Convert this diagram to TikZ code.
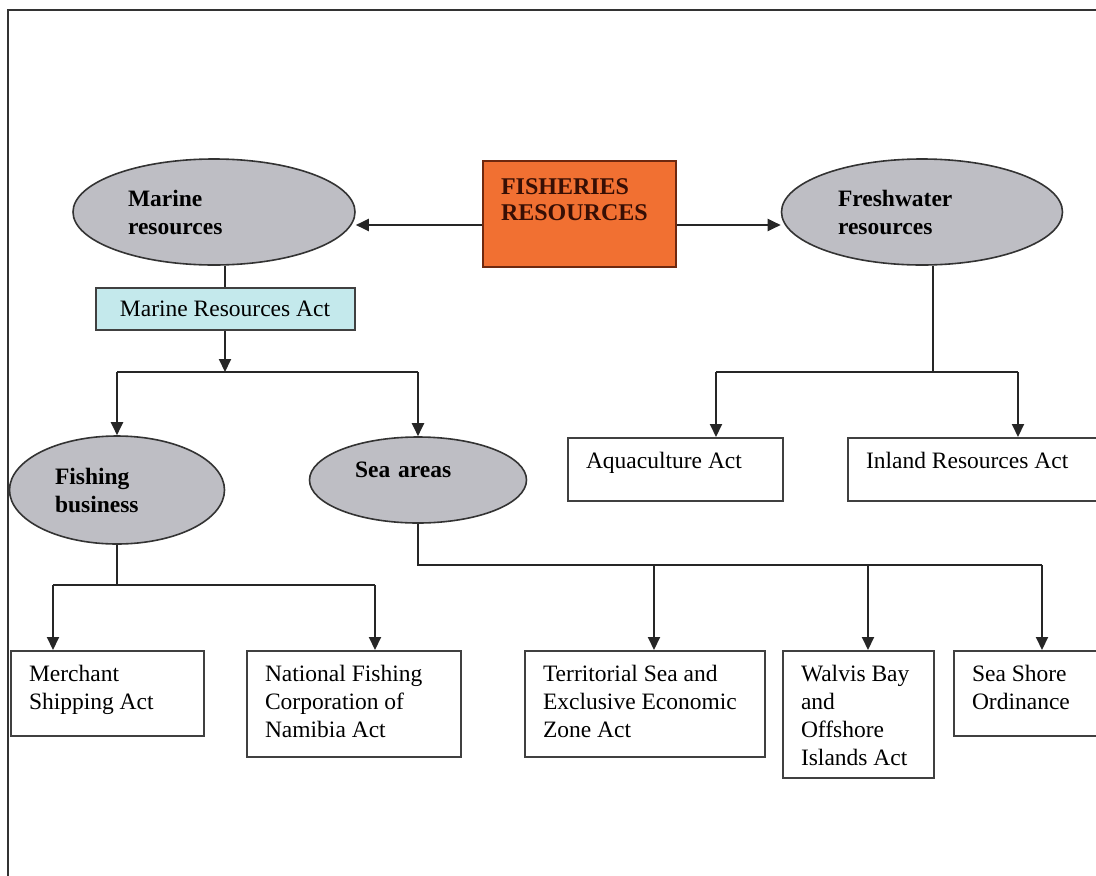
\documentclass[tikz,border=0pt]{standalone}
\usepackage{fontspec}
\setmainfont{Liberation Serif}
\usepackage{tikz}
\usetikzlibrary{arrows.meta,shapes.geometric}
\definecolor{naranja}{RGB}{241,112,50}
\definecolor{borde}{RGB}{110,40,15}
\definecolor{letra}{RGB}{55,15,5}
\definecolor{gris}{RGB}{190,190,196}
\definecolor{celeste}{RGB}{196,233,236}
\tikzset{
  ovalo/.style={ellipse,draw=black!80,line width=1.6pt,fill=gris,inner sep=0pt,align=left,font=\fontsize{23.5}{28}\selectfont\bfseries},
  caja/.style={rectangle,draw=black!75,line width=2pt,fill=white,inner sep=0pt,anchor=north west,font=\fontsize{23.5}{28}\selectfont},
  flecha/.style={-{Triangle[length=13pt,width=12pt]},black!85,line width=2pt},
  linea/.style={black!85,line width=2pt},
  marco/.style={black!80,line width=1.6pt}
}
\newcommand{\textocaja}[4][10.4]{\parbox[c][#3pt][t]{#2pt}{\raggedright\leftskip=18pt\vspace*{#1pt}\strut#4}}

\begin{document}
\begin{tikzpicture}[x=1pt,y=-1pt]
\useasboundingbox (0,0) rectangle (1096,876); \clip (0,0) rectangle (1096,876);
\draw[marco] (8,10) rectangle (1130,900);
\node[caja,fill=naranja,draw=borde,text=letra,font=\fontsize{24}{26}\selectfont\bfseries] (pesqueria) at (482,160) {\textocaja[14.8]{193}{106}{FISHERIES\\RESOURCES}};
\node[ovalo,minimum width=282pt,minimum height=106pt,text width=172pt] (marina) at (214,212) {Marine\\resources};
\node[ovalo,minimum width=281pt,minimum height=106pt,text width=168pt] (dulce) at (922,212) {Freshwater\\resources};
\draw[flecha] ([yshift=-11pt]pesqueria.west) -- ([yshift=-11pt]pesqueria.west -| marina.east);
\draw[flecha] ([yshift=-11pt]pesqueria.east) -- ([yshift=-11pt]pesqueria.east -| dulce.west);
\node[caja,fill=celeste,anchor=center,minimum width=259pt,minimum height=42pt] (ley) at (225,309) {Marine Resources Act};
\draw[linea] (ley.north |- marina.south) -- (ley.north);
\coordinate (nudo1) at (225,372); \draw[flecha] (ley.south) -- (nudo1);
\node[ovalo,minimum width=215pt,minimum height=108pt,text width=124pt] (pesca) at (117,490) {Fishing\\business};
\node[ovalo,minimum width=217pt,minimum height=86pt,text width=126pt,text depth=20pt] (mares) at (418,480) {Sea areas};
\draw[linea] (pesca.north |- nudo1) -- (mares.north |- nudo1);
\draw[flecha] (pesca.north |- nudo1) -- (pesca.north); \draw[flecha] (mares.north |- nudo1) -- (mares.north);
\node[caja] (acui) at (567,437) {\textocaja{215}{63}{Aquaculture Act}};
\node[caja] (interior) at (847,437) {\textocaja{260}{63}{Inland Resources Act}};
\coordinate (nudo2) at (933,372); \coordinate (b1) at (716,372); \coordinate (b2) at (1018,372);
\draw[linea] (nudo2 |- dulce.south) -- (nudo2); \draw[linea] (b1) -- (b2);
\draw[flecha] (b1) -- (b1 |- acui.north); \draw[flecha] (b2) -- (b2 |- interior.north);
\node[caja] (mercante) at (10,650) {\textocaja{193}{85}{Merchant\\Shipping Act}};
\node[caja] (nacional) at (246,650) {\textocaja{214}{106}{National Fishing\\Corporation of\\Namibia Act}};
\node[caja] (territorial) at (524,650) {\textocaja{240}{106}{Territorial Sea and\\Exclusive Economic\\Zone Act}};
\node[caja] (walvis) at (782,650) {\textocaja{151}{127}{Walvis Bay\\and\\Offshore\\Islands Act}};
\node[caja] (costa) at (953,650) {\textocaja{170}{85}{Sea Shore\\Ordinance}};
\coordinate (c1) at (53,585); \coordinate (c2) at (375,585);
\draw[linea] (pesca.south) -- (pesca.south |- c1); \draw[linea] (c1) -- (c2);
\draw[flecha] (c1) -- (c1 |- mercante.north); \draw[flecha] (c2) -- (c2 |- nacional.north);
\coordinate (d1) at (654,565); \coordinate (d2) at (868,565); \coordinate (d3) at (1042,565);
\draw[linea] (mares.south) -- (mares.south |- d1) -- (d3);
\draw[flecha] (d1) -- (d1 |- territorial.north); \draw[flecha] (d2) -- (d2 |- walvis.north); \draw[flecha] (d3) -- (d3 |- costa.north);
\end{tikzpicture}
\end{document}
